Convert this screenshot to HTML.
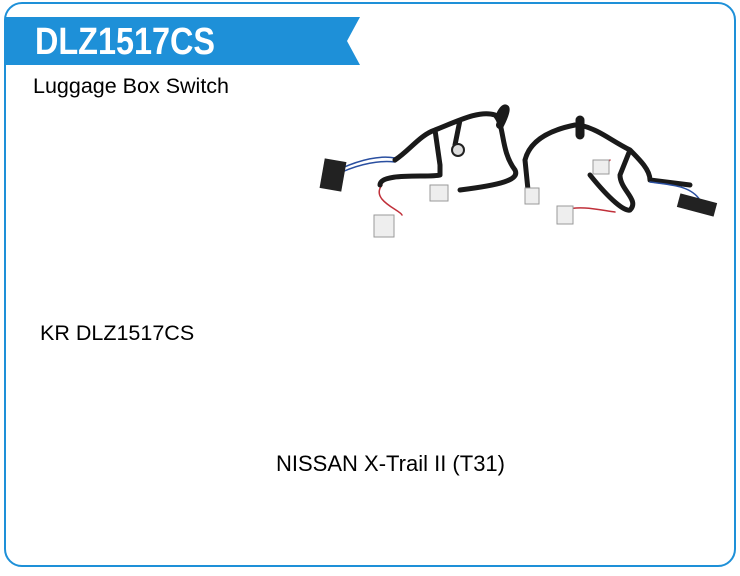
<!DOCTYPE html>
<html><head><style>
body{margin:0;width:740px;height:576px;background:#fff;position:relative;overflow:hidden;font-family:"Liberation Sans",Arial,sans-serif}
.frame{position:absolute;left:4px;top:2px;width:728px;height:561px;border:2px solid #1e90d8;border-radius:18px}
.t{position:absolute;color:#000;font-size:21.5px;white-space:nowrap}
</style></head><body>
<div class="frame"></div>
<svg style="position:absolute;left:0;top:0" width="740" height="576">
<polygon points="6,17 360,17 347,41 360,65 6,65" fill="#1e90d8"/>
<text x="35" y="54" fill="#fff" font-family="Liberation Sans,Arial,sans-serif" font-weight="bold" font-size="38" textLength="180" lengthAdjust="spacingAndGlyphs">DLZ1517CS</text>
<g fill="none" stroke-linecap="round" stroke-linejoin="round">
<path d="M342,168 C360,160 380,155 395,158" stroke="#2a4fa0" stroke-width="1.5"/>
<path d="M342,172 C360,164 380,160 395,162" stroke="#2a4fa0" stroke-width="1.5"/>
<path d="M382,185 C370,200 400,210 402,215" stroke="#c0303a" stroke-width="1.5"/>
<path d="M395,160 C410,150 420,135 435,130 L440,165 L440,175 C430,178 380,172 380,185 M435,130 C460,120 480,110 495,115 C505,125 500,150 515,170 C520,180 500,185 460,190 M460,120 L455,145" stroke="#1a1a1a" stroke-width="5"/>
<path d="M500,115 C505,105 510,105 500,125" stroke="#1a1a1a" stroke-width="8"/>
<path d="M575,125 C550,130 530,140 525,160 L528,190 M580,125 C600,130 610,140 630,150 L620,175 C620,190 640,200 630,210 C625,212 610,200 590,175 M630,150 C640,160 650,170 650,180 L690,185" stroke="#1a1a1a" stroke-width="5"/>
<path d="M580,120 L580,135" stroke="#1a1a1a" stroke-width="9"/>
<path d="M565,210 C580,205 600,210 615,212" stroke="#c0303a" stroke-width="1.5"/>
<path d="M650,182 C670,185 690,185 700,200" stroke="#2a4fa0" stroke-width="1.5"/>
<path d="M610,160 L600,170" stroke="#c0303a" stroke-width="1.5"/>
</g>
<rect x="322" y="160" width="22" height="30" fill="#222" transform="rotate(10 333 175)"/>
<rect x="678" y="198" width="38" height="14" fill="#222" transform="rotate(15 697 205)"/>
<rect x="374" y="215" width="20" height="22" fill="#eee" stroke="#999"/>
<rect x="430" y="185" width="18" height="16" fill="#eee" stroke="#999"/>
<rect x="525" y="188" width="14" height="16" fill="#eee" stroke="#999"/>
<rect x="593" y="160" width="16" height="14" fill="#eee" stroke="#999"/>
<rect x="557" y="206" width="16" height="18" fill="#eee" stroke="#999"/>
<circle cx="458" cy="150" r="6" fill="#ddd" stroke="#222" stroke-width="2"/>
</svg>
<div class="t" style="left:33px;top:74px">Luggage Box Switch</div>
<div class="t" style="left:40px;top:321px">KR DLZ1517CS</div>
<div class="t" style="left:276px;top:451px;font-size:22px">NISSAN X-Trail II (T31)</div>
</body></html>
